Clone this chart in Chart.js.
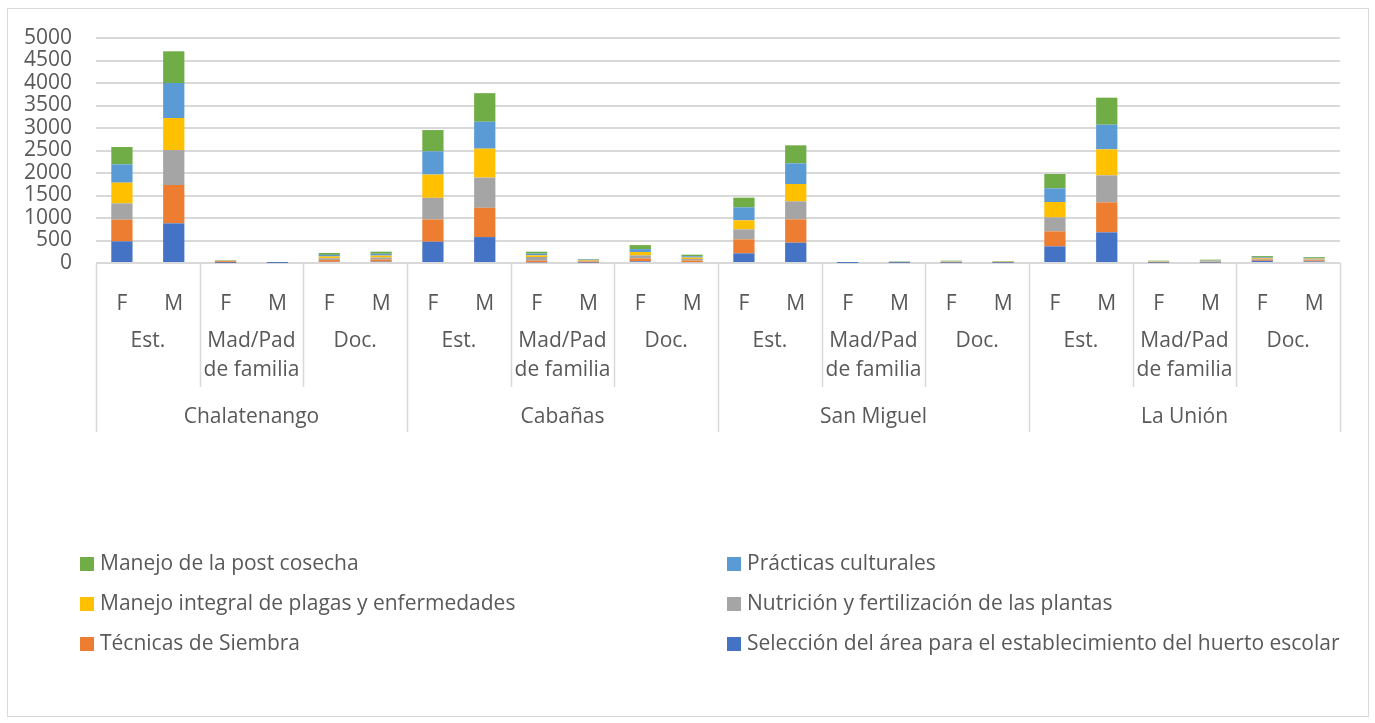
<!DOCTYPE html>
<html>
<head>
<meta charset="utf-8">
<script src="https://cdn.jsdelivr.net/npm/chart.js@4"></script>
<style>
    body { margin: 0; background: #fff; font-family: "Open Sans", sans-serif; }
    #frame { position: absolute; left: 7px; top: 8px; width: 1360px; height: 707px; border: 1px solid #d9d9d9; }
    #wrap { position: absolute; left: 0; top: 0; width: 1375px; height: 723px; }
    #legend { position: absolute; left: 0; top: 548px; width: 1375px; }
    .item { position: absolute; font-size: 21px; color: #595959; white-space: nowrap; line-height: 28px; }
    .item span.box { display: inline-block; width: 14px; height: 14px; margin-right: 6px; vertical-align: -1px; }
</style>
</head>
<body>
<div id="frame"></div>
<div id="wrap"><canvas id="barChart" width="1375" height="723"></canvas></div>
<div id="legend"></div>
<script>
var genders = ['F', 'M', 'F', 'M', 'F', 'M', 'F', 'M', 'F', 'M', 'F', 'M',
    'F', 'M', 'F', 'M', 'F', 'M', 'F', 'M', 'F', 'M', 'F', 'M'];
var groups = [['Est.'], ['Mad/Pad', 'de familia'], ['Doc.']];
var departments = ['Chalatenango', 'Cabañas', 'San Miguel', 'La Unión'];
var yTicks = [0, 500, 1000, 1500, 2000, 2500, 3000, 3500, 4000, 4500, 5000];

var seriesNames = [
    'Selección del área para el establecimiento del huerto escolar',
    'Técnicas de Siembra',
    'Nutrición y fertilización de las plantas',
    'Manejo integral de plagas y enfermedades',
    'Prácticas culturales',
    'Manejo de la post cosecha'
];
var seriesColors = ['#4472C4', '#ED7D31', '#A5A5A5', '#FFC000', '#5B9BD5', '#70AD47'];

var seleccion = [481, 881, 5, 2, 25, 30, 473, 576, 15, 10, 37, 20,
    215, 452, 2, 5, 8, 7, 370, 681, 8, 10, 50, 35];
var tecnicas = [482, 852, 35, 2, 40, 45, 495, 650, 37, 25, 66, 35,
    311, 518, 1, 6, 12, 8, 333, 667, 10, 12, 25, 25];
var nutricion = [363, 778, 8, 2, 40, 45, 480, 672, 81, 15, 66, 35,
    222, 400, 1, 6, 8, 7, 310, 600, 8, 15, 20, 20];
var manejoIntegral = [459, 711, 5, 1, 40, 45, 517, 643, 37, 15, 74, 30,
    200, 386, 1, 8, 8, 8, 342, 578, 10, 12, 20, 18];
var practicas = [408, 778, 4, 1, 35, 40, 517, 598, 37, 12, 66, 30,
    289, 459, 1, 6, 8, 7, 304, 548, 8, 12, 20, 17];
var postCosecha = [385, 704, 8, 2, 42, 47, 472, 635, 44, 12, 89, 35,
    215, 400, 2, 6, 8, 7, 319, 600, 8, 13, 20, 18];

var seriesValues = [seleccion, tecnicas, nutricion, manejoIntegral, practicas, postCosecha];

var datasets = [];
for (var i = 0; i < seriesNames.length; i++) {
    datasets.push({
        label: seriesNames[i],
        data: seriesValues[i],
        backgroundColor: seriesColors[i],
        borderWidth: 0,
        barPercentage: 0.41,
        categoryPercentage: 1
    });
}

var textColor = '#595959';
var lineColor = '#d9d9d9';

// draws the second and third label rows and the separators
var multiLevelAxis = {
    id: 'multiLevelAxis',
    afterDraw: function(chart) {
        var ctx = chart.ctx;
        var x = chart.scales.x;
        var bottom = chart.chartArea.bottom;
        var half = (x.getPixelForValue(1) - x.getPixelForValue(0)) / 2;
        ctx.save();
        ctx.strokeStyle = lineColor;
        ctx.lineWidth = 1.5;
        ctx.fillStyle = textColor;
        ctx.font = '21px "Open Sans"';
        ctx.textAlign = 'center';
        ctx.textBaseline = 'middle';
        for (var g = 0; g <= 12; g++) {
            var px = Math.round(x.getPixelForValue(g * 2) - half) + 0.5;
            if (g == 12) px = Math.round(x.getPixelForValue(23) + half) + 0.5;
            var full = g % 3 == 0;
            ctx.beginPath();
            ctx.moveTo(px, bottom);
            ctx.lineTo(px, full ? 432 : 387);
            ctx.stroke();
        }
        for (var g = 0; g < 12; g++) {
            var cx = (x.getPixelForValue(g * 2) + x.getPixelForValue(g * 2 + 1)) / 2;
            var lines = groups[g % 3];
            for (var l = 0; l < lines.length; l++) {
                ctx.fillText(lines[l], cx, 341 + l * 29);
            }
        }
        for (var d = 0; d < departments.length; d++) {
            var dx = (x.getPixelForValue(d * 6) + x.getPixelForValue(d * 6 + 5)) / 2;
            ctx.fillText(departments[d], dx, 417);
        }
        ctx.restore();
    }
};

var ctx = document.getElementById('barChart');
var chart = new Chart(ctx, {
    type: 'bar',
    data: {
        labels: genders,
        datasets: datasets
    },
    options: {
        responsive: false,
        animation: false,
        layout: { padding: { left: 0, right: 35, top: 38, bottom: 291 } },
        plugins: {
            legend: { display: false },
            tooltip: { enabled: false }
        },
        scales: {
            x: {
                stacked: true,
                grid: { display: false },
                border: { display: false },
                ticks: { color: textColor, font: { family: 'Open Sans', size: 21 }, padding: 20, maxRotation: 0, autoSkip: false },
                afterFit: function(scale) { scale.height = 169; }
            },
            y: {
                stacked: true,
                min: 0,
                max: 5000,
                afterBuildTicks: function(scale) {
                    scale.ticks = yTicks.map(function(v) { return { value: v }; });
                },
                grid: { color: lineColor, lineWidth: 2, drawTicks: false },
                border: { display: false },
                ticks: {
                    color: textColor,
                    font: { family: 'Open Sans', size: 21 },
                    padding: 24,
                    autoSkip: false,
                    callback: function(value) { return String(value); }
                },
                afterFit: function(scale) { scale.width = 96; }
            }
        }
    },
    plugins: [multiLevelAxis]
});

// legend in two columns, reversed like the original
var legend = document.getElementById('legend');
var order = [5, 4, 3, 2, 1, 0];
for (var k = 0; k < order.length; k++) {
    var s = order[k];
    var div = document.createElement('div');
    div.className = 'item';
    div.style.left = (k % 2 == 0 ? 80 : 727) + 'px';
    div.style.top = (Math.floor(k / 2) * 40) + 'px';
    div.innerHTML = '<span class="box" style="background:' + seriesColors[s] + '"></span>' + seriesNames[s];
    legend.appendChild(div);
}
</script>
</body>
</html>
